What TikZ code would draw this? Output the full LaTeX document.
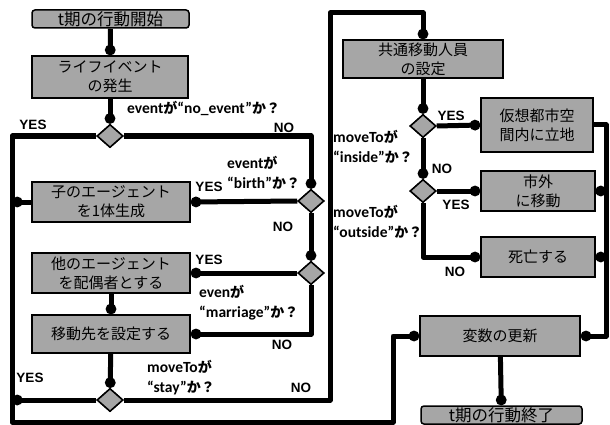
\documentclass[tikz,border=0pt]{standalone}
\usepackage{fontspec}
\usetikzlibrary{shapes.geometric,arrows.meta}
\newfontfamily\cjk{Noto Sans CJK JP}
\newfontfamily\latf{Carlito}
\newfontfamily\arf{Liberation Sans}
\newcommand\La[1]{{\latf\bfseries\fontsize{15.5}{19}\selectfont #1}}
\newcommand\Ja[1]{{\cjk\bfseries\fontsize{14}{19}\selectfont #1}}
\definecolor{boxgray}{RGB}{166,166,166}
\tikzset{
  box/.style={draw=black, line width=1.5pt, fill=boxgray, rectangle, inner sep=0pt, align=center,
    font=\cjk\fontsize{15}{19}\selectfont},
  termbox/.style={box, rounded corners=3pt, font=\cjk\fontsize{16.5}{19}\selectfont},
  decision/.style={draw=black, line width=1.5pt, fill=boxgray, diamond, inner sep=0pt,
    minimum width=26pt, minimum height=23pt},
  flow/.style={line width=5pt, line join=round, -{Circle[length=10.5pt,width=10.5pt]}},
  yn/.style={font=\arf\bfseries\fontsize{13.5}{15}\selectfont, inner sep=0pt},
  cond/.style={inner sep=0pt, anchor=west, align=left, font=\fontsize{14}{20}\selectfont},
}
\begin{document}
\begin{tikzpicture}[x=1pt,y=-1pt]
\useasboundingbox (0,0) rectangle (610,425);
% nodes
\node[termbox, minimum width=157pt, minimum height=18pt] (start) at (110.5,19) {t期の行動開始};
\node[box, minimum width=156pt, minimum height=42pt] (life) at (110,77) {ライフイベント\\の発生};
\node[decision] (d1) at (110,136) {};
\node[box, minimum width=158pt, minimum height=40pt] (child) at (111,202) {子のエージェント\\を1体生成};
\node[decision] (d2) at (311,201) {};
\node[box, minimum width=158pt, minimum height=40pt] (spouse) at (111,273) {他のエージェント\\を配偶者とする};
\node[decision] (d3) at (311,273) {};
\node[box, minimum width=158pt, minimum height=38pt] (move) at (111,334) {移動先を設定する};
\node[decision] (d4) at (110,400) {};
\node[box, minimum width=160pt, minimum height=38pt] (common) at (423,59) {共通移動人員\\の設定};
\node[decision] (d5) at (423,126) {};
\node[box, minimum width=112pt, minimum height=54pt] (virtual) at (537,125) {仮想都市空\\間内に立地};
\node[decision] (d6) at (423,191) {};
\node[box, minimum width=114pt, minimum height=40pt] (outside) at (538,191) {市外\\に移動};
\node[box, minimum width=114pt, minimum height=40pt] (die) at (538,257) {死亡する};
\node[box, minimum width=160pt, minimum height=40pt] (update) at (500,336) {変数の更新};
\node[termbox, minimum width=161pt, minimum height=18pt] (end) at (501.5,415) {t期の行動終了};
% helper coordinates
\coordinate (bl) at (12,422);
\coordinate (br) at (393,422);
\coordinate (tc) at (330,13);
\coordinate (rc) at (606,336);
% connectors
\draw[flow] (start) -- (life);
\draw[flow] (life) -- (d1);
\draw[flow] (d1.west) -| (bl) -- (br) |- (update.west);
\draw[flow] (d1.east) -| (d2.north);
\draw[flow] (d2.west) -- (child.east);
\draw[flow] (child.west) -- (child.west -| bl);
\draw[flow] (d2.south) -- (d3.north);
\draw[flow] (d3.west) -- (spouse.east);
\draw[flow] (spouse) -- (move);
\draw[flow] (d3.south) |- (move.east);
\draw[flow] (move) -- (d4);
\draw[flow] (d4.west) -- (d4.west -| bl);
\draw[flow] (d4.east) -| (tc) -| (common.north);
\draw[flow] (common) -- (d5);
\draw[flow] (d5.east) -- (virtual.west);
\draw[flow] (virtual.east) -| (rc) -- (update.east);
\draw[flow] (d5.south) -- (d6.north);
\draw[flow] (d6.east) -- (outside.west);
\draw[flow] (outside.east) -- (outside.east -| rc);
\draw[flow] (d6.south) |- (die.west);
\draw[flow] (die.east) -- (die.east -| rc);
\draw[flow] (update) -- (end);
% redraw decisions on top
\foreach \d in {d1,d2,d3,d4,d5,d6} {\node[decision] at (\d) {};}
% labels
\node[cond] (l1) at (127,108) {\La{event}\Ja{が}\La{“no\_event”}\Ja{か？}};
\node[yn] (y1) at (33,125) {YES};
\node[yn] (n1) at (284,128) {NO};
\node[cond] (l2) at (227,173) {\La{event}\Ja{が}\\\La{“birth”}\Ja{か？}};
\node[yn] (y2) at (209,187) {YES};
\node[yn] (n2) at (283,227) {NO};
\node[yn] (y3) at (209,260) {YES};
\node[cond] (l3) at (199,303) {\La{even}\Ja{が}\\\La{“marriage”}\Ja{か？}};
\node[yn] (n3) at (282,345) {NO};
\node[yn] (y4) at (30,378) {YES};
\node[cond] (l4) at (147,378) {\La{moveTo}\Ja{が}\\\La{“stay”}\Ja{か？}};
\node[yn] (n4) at (301,388) {NO};
\node[yn] (y5) at (451,116) {YES};
\node[cond] (l5) at (333,147) {\La{moveTo}\Ja{が}\\\La{“inside”}\Ja{か？}};
\node[yn] (n5) at (442,169) {NO};
\node[yn] (y6) at (456,205) {YES};
\node[cond] (l6) at (333,222) {\La{moveTo}\Ja{が}\\\La{“outside”}\Ja{か？}};
\node[yn] (n6) at (455,272) {NO};
\end{tikzpicture}
\end{document}
